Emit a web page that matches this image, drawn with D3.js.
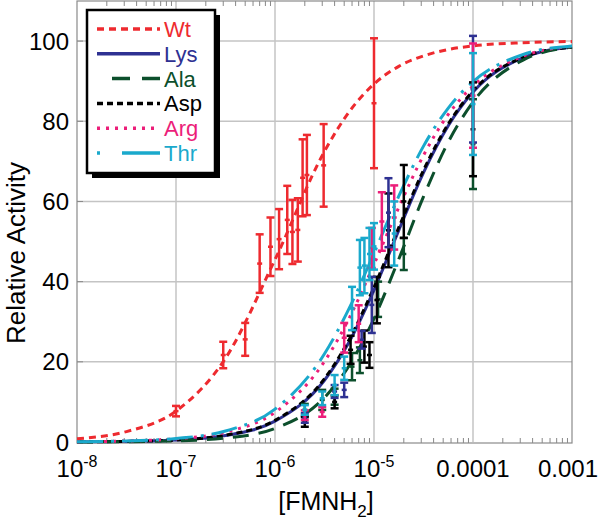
<!DOCTYPE html>
<html><head><meta charset="utf-8">
<script src="https://cdn.jsdelivr.net/npm/d3@7"></script>
<style>body{margin:0;background:#fff}svg{display:block;font-family:"Liberation Sans",Arial,sans-serif}</style>
</head><body><svg id="c" width="600" height="523"></svg>
<script>
// ---- data ----
const curveLogX = [-8, -7.5, -7, -6.5, -6, -5.5, -5.25, -5, -4.75, -4.5, -4.25, -4, -3.5, -3];
const wtCurve  = [0.8, 2.6, 7.7, 20.9, 45.5, 72.5, 82.4, 89.3, 93.7, 96.3, 97.9, 98.8, 99.6, 99.9];
const lysCurve = [0.04, 0.14, 0.48, 1.6, 5.2, 15.4, 25.0, 37.9, 52.8, 67.2, 78.9, 87.3, 95.8, 98.5];
const aspCurve = [0.04, 0.14, 0.5, 1.7, 5.4, 15.8, 25.6, 38.6, 53.5, 67.8, 79.3, 87.6, 95.9, 98.5];
const alaCurve = [0.02, 0.08, 0.28, 0.99, 3.4, 11.1, 19.1, 30.8, 45.6, 61.2, 74.8, 84.8, 95.2, 98.5];
const argCurve = [0.08, 0.25, 0.79, 2.45, 7.4, 20.1, 30.9, 44.3, 58.5, 71.5, 81.7, 88.8, 96.2, 98.7];
const thrCurve = [0.09, 0.28, 0.88, 2.74, 8.2, 22.0, 33.4, 47.1, 61.3, 73.8, 83.3, 89.9, 96.6, 98.8];

const wtX   = [1e-7, 3e-7, 5e-7, 7e-7, 9e-7, 1.1e-6, 1.33e-6, 1.5e-6, 1.7e-6, 1.9e-6, 2.1e-6, 3.1e-6, 1e-5];
const wtY   = [7.7, 21.7, 25.6, 44.5, 48.7, 50.6, 55.4, 52.4, 52.9, 65.9, 66.6, 69, 84.5];
const wtErr = [1.3, 3.3, 4.1, 7.3, 7.3, 7.5, 8.5, 8, 7.9, 9.6, 10, 10.3, 16.2];

const lysX   = [2e-6, 4e-6, 5e-6, 7.5e-6, 9.5e-6, 1.4e-5, 1e-4];
const lysY   = [6, 12.6, 13, 25.5, 34.2, 57.2, 88];
const lysErr = [1.2, 1.6, 1.8, 2.2, 7, 8.6, 13.3];

const aspX   = [2e-6, 4e-6, 5.8e-6, 8e-6, 9e-6, 1.07e-5, 1.4e-5, 2e-5, 1e-4];
const aspY   = [5, 10, 23, 23.8, 21.7, 35.4, 52.8, 60, 78];
const aspErr = [1.2, 1.6, 3.5, 4, 3.2, 5.8, 9.2, 9.1, 11.7];

const alaX   = [2e-6, 3e-6, 4e-6, 6e-6, 7.2e-6, 1.1e-5, 2e-5, 1e-4];
const alaY   = [8, 10.5, 11.3, 18.8, 20.4, 35.6, 46.9, 74.3];
const alaErr = [1.5, 2.5, 2, 3.4, 3.2, 4.4, 4, 11.2];

const argX   = [2e-6, 3e-6, 5e-6, 7e-6, 9.5e-6, 1.2e-5, 1.6e-5, 1e-4];
const argY   = [6.7, 7.5, 26, 29.5, 48.4, 55, 56, 86.4];
const argErr = [1.2, 1.2, 3.7, 4.6, 5, 7.3, 8, 13];

const thrX   = [2e-6, 3e-6, 4e-6, 5e-6, 6e-6, 7.2e-6, 8e-6, 9e-6, 1e-5, 1.6e-5, 1e-4];
const thrY   = [8, 10.9, 14.2, 18.4, 33.3, 43.5, 44, 46.9, 48.8, 52, 84.3];
const thrErr = [1.2, 1.7, 2.5, 2.9, 5.4, 6.9, 6.9, 6.5, 5.8, 8, 12.7];

const seriesNames = ["Wt", "Lys", "Ala", "Asp", "Arg", "Thr"];
const xTickVals = [1e-8, 1e-7, 1e-6, 1e-5, 1e-4, 1e-3];
const xTickLabels = [["10","-8"], ["10","-7"], ["10","-6"], ["10","-5"], ["0.0001",""], ["0.001",""]];
const yTickVals = [0, 20, 40, 60, 80, 100];

// ---- styles ----
const styles = {
  Wt:  {color:"#ee2a2f", dash:"7,5"},
  Lys: {color:"#2e3192", dash:null},
  Ala: {color:"#0c4f2c", dash:"16,10"},
  Asp: {color:"#000000", dash:"6,4"},
  Arg: {color:"#ec1e79", dash:"3,6"},
  Thr: {color:"#1aa9cc", dash:"26,8,3,8"}
};

const svg = d3.select("#c");
const L = 77, R = 572, T = 1, B = 442;
const x = d3.scaleLog().domain([1e-8, 1e-3]).range([L, R]);
const y = d3.scaleLinear().domain([0, 110]).range([B, T]);

// grid
const g = svg.append("g");
g.selectAll(".gx").data(xTickVals.slice(1, -1)).join("line")
  .attr("x1", d => x(d)).attr("x2", d => x(d)).attr("y1", T).attr("y2", B)
  .attr("stroke", "#c4c4c4").attr("stroke-width", 1.5);
g.selectAll(".gy").data(yTickVals.slice(1)).join("line")
  .attr("x1", L).attr("x2", R).attr("y1", d => y(d)).attr("y2", d => y(d))
  .attr("stroke", "#c4c4c4").attr("stroke-width", 1.5);

// minor ticks top & bottom
const minors = [];
for (let e = -8; e < -3; e++) for (let m = 2; m <= 9; m++) minors.push(m * Math.pow(10, e));
g.selectAll(".mb").data(minors).join("line")
  .attr("x1", d => x(d)).attr("x2", d => x(d)).attr("y1", B + 1).attr("y2", B - 4)
  .attr("stroke", "#888").attr("stroke-width", 1);
g.selectAll(".mt").data(minors).join("line")
  .attr("x1", d => x(d)).attr("x2", d => x(d)).attr("y1", T).attr("y2", T + 5)
  .attr("stroke", "#888").attr("stroke-width", 1);
g.selectAll(".yt").data(yTickVals).join("line")
  .attr("x1", L).attr("x2", L + 6).attr("y1", d => y(d)).attr("y2", d => y(d))
  .attr("stroke", "#888").attr("stroke-width", 1);

// frame
svg.append("rect").attr("x", L).attr("y", T).attr("width", R - L).attr("height", B + 1 - T)
  .attr("fill", "none").attr("stroke", "#8a8a8a").attr("stroke-width", 1.2);

// curves
const line = d3.line().x(d => x(Math.pow(10, d[0]))).y(d => y(d[1])).curve(d3.curveMonotoneX);
const curves = {Wt: wtCurve, Lys: lysCurve, Ala: alaCurve, Asp: aspCurve, Arg: argCurve, Thr: thrCurve};
["Wt", "Lys", "Asp", "Ala", "Arg", "Thr"].forEach(k => {
  svg.append("path").datum(curveLogX.map((lx, i) => [lx, curves[k][i]]))
    .attr("d", line).attr("fill", "none").attr("stroke", styles[k].color)
    .attr("stroke-width", 3).attr("stroke-dasharray", styles[k].dash);
});

// error bars
function bars(name, xs, ys, es) {
  const c = styles[name].color;
  const gg = svg.append("g").attr("stroke", c).attr("stroke-width", 2.5);
  const pts = xs.map((v, i) => ({x: v, y: ys[i], e: es[i]}));
  gg.selectAll(".v").data(pts).join("line")
    .attr("x1", d => x(d.x)).attr("x2", d => x(d.x))
    .attr("y1", d => y(d.y + d.e)).attr("y2", d => y(d.y - d.e));
  gg.selectAll(".t").data(pts).join("line")
    .attr("x1", d => x(d.x) - 4).attr("x2", d => x(d.x) + 4)
    .attr("y1", d => y(d.y + d.e)).attr("y2", d => y(d.y + d.e));
  gg.selectAll(".b").data(pts).join("line")
    .attr("x1", d => x(d.x) - 4).attr("x2", d => x(d.x) + 4)
    .attr("y1", d => y(d.y - d.e)).attr("y2", d => y(d.y - d.e));
  gg.selectAll(".m").data(pts).join("line")
    .attr("x1", d => x(d.x) - 2.5).attr("x2", d => x(d.x) + 2.5)
    .attr("y1", d => y(d.y)).attr("y2", d => y(d.y));
}
bars("Ala", alaX, alaY, alaErr);
bars("Asp", aspX, aspY, aspErr);
bars("Lys", lysX, lysY, lysErr);
bars("Arg", argX, argY, argErr);
bars("Thr", thrX, thrY, thrErr);
bars("Wt", wtX, wtY, wtErr);

// axis labels
const xl = svg.append("g").attr("font-size", 24).attr("fill", "#000");
xTickVals.forEach((v, i) => {
  const last = i === xTickVals.length - 1;
  const t = xl.append("text").attr("x", last ? 598 : x(v)).attr("y", 477)
    .attr("text-anchor", last ? "end" : "middle");
  t.append("tspan").text(xTickLabels[i][0]);
  if (xTickLabels[i][1]) t.append("tspan").attr("dy", -10).attr("font-size", 16).text(xTickLabels[i][1]);
});
svg.append("g").attr("font-size", 24).selectAll("text").data(yTickVals).join("text")
  .attr("x", 69).attr("y", d => y(d) + 8.5).attr("text-anchor", "end").text(d => d);

const xt = svg.append("text").attr("x", 326).attr("y", 510).attr("text-anchor", "middle").attr("font-size", 25);
xt.append("tspan").text("[FMNH");
xt.append("tspan").attr("dy", 7).attr("font-size", 17).text("2");
xt.append("tspan").attr("dy", -7).text("]");
svg.append("text").attr("transform", "translate(25,253) rotate(-90)").attr("text-anchor", "middle")
  .attr("font-size", 26).text("Relative Activity");

// legend
const lg = svg.append("g");
lg.append("rect").attr("x", 92).attr("y", 15).attr("width", 128).attr("height", 163).attr("fill", "#000");
lg.append("rect").attr("x", 87).attr("y", 10).attr("width", 128).attr("height", 163)
  .attr("fill", "#fff").attr("stroke", "#000").attr("stroke-width", 2.5);
seriesNames.forEach((n, i) => {
  const yy = 29 + i * 24.8;
  lg.append("line").attr("x1", 97).attr("x2", 160).attr("y1", yy).attr("y2", yy)
    .attr("stroke", styles[n].color).attr("stroke-width", 3.5)
    .attr("stroke-dasharray", n === "Ala" ? "0,15,18,12,18" : (n === "Thr" ? "3,22,38" : styles[n].dash));
  lg.append("text").attr("x", 164).attr("y", yy + 8).attr("font-size", 22)
    .attr("fill", styles[n].color).text(n);
});
</script></body></html>
